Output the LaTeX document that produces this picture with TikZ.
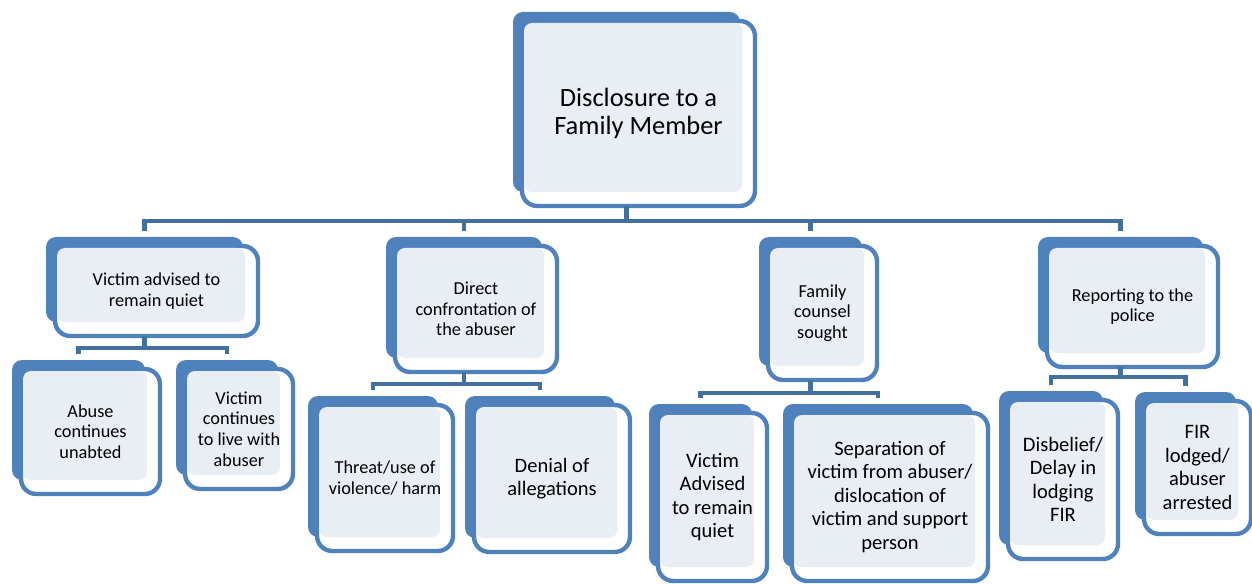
\documentclass[tikz,border=0pt]{standalone}
\usepackage{fontspec}
\setmainfont{Carlito}
\usetikzlibrary{fit}

\definecolor{cardblue}{HTML}{4F81BD}
\definecolor{linkblue}{HTML}{41719C}
\definecolor{cardfill}{HTML}{E9EDF4}

\newcommand{\cardsmall}{\fontsize{13}{14.6}\selectfont}
\newcommand{\cardbig}{\fontsize{14.6}{16.7}\selectfont}
\newcommand{\cardtop}{\fontsize{18.8}{20}\selectfont}

% name, back box corners (x1,y1) (x2,y2), font, text
\newcommand{\famcard}[7]{%
  \node[backcard, fit={(#2,#3) (#4,#5)}] (#1) {};
  \node[frontcard, fit={(#2+9,#3+9) (#4+15,#5+14)}] (#1f) {};
  \node[fillcard, fit={(#2+11,#3+11) (#4+2,#5)}] (#1l) {};
  \node[cardtext, font=#6] (#1t) at (#1f.center) {#7};
}

\begin{document}
\begin{tikzpicture}[x=0.025cm, y=-0.025cm,
  backcard/.style={rectangle, rounded corners=0.25cm, fill=cardblue, inner sep=0pt, outer sep=0pt},
  frontcard/.style={rectangle, rounded corners=0.38cm, draw=cardblue, line width=0.11cm, fill=white, inner sep=0pt, outer sep=0pt},
  fillcard/.style={rectangle, rounded corners=0.2cm, fill=cardfill, inner sep=0pt, outer sep=0pt},
  cardtext/.style={align=center, text=black, inner sep=0pt},
  link/.style={draw=linkblue, line width=0.11cm, shorten >=0.16cm}]

  \useasboundingbox (0,0) rectangle (1252,584);

  \famcard{top}{513}{12}{740}{192}{\cardtop}{Disclosure to a\\Family Member}

  \famcard{vic}{46}{237}{243}{322}{\cardsmall}{Victim advised to\\remain quiet}
  \famcard{conf}{386}{237}{542}{358}{\cardsmall}{Direct\\confrontation of\\the abuser}
  \famcard{coun}{759}{237}{862}{366}{\cardsmall}{Family\\counsel\\sought}
  \famcard{pol}{1038}{237}{1203}{353}{\cardsmall}{Reporting to the\\police}

  \famcard{abuse}{12}{360}{145}{480}{\cardsmall}{Abuse\\continues\\unabted}
  \famcard{live}{176}{360}{278}{475}{\cardsmall}{Victim\\continues\\to live with\\abuser}
  \famcard{threat}{308}{396}{438}{537}{\cardsmall}{Threat/use of\\violence/ harm}
  \famcard{denial}{465}{396}{615}{538}{\cardbig}{Denial of\\allegations}
  \famcard{advq}{649}{404}{752}{567}{\cardbig}{Victim\\Advised\\to remain\\quiet}
  \famcard{sep}{783}{404}{973}{567}{\cardbig}{Separation of\\victim from abuser/\\dislocation of\\victim and support\\person}
  \famcard{disb}{999}{391}{1103}{545}{\cardbig}{Disbelief/\\Delay in\\lodging\\FIR}
  \famcard{fir}{1135}{392}{1236}{520}{\cardbig}{FIR\\lodged/\\abuser\\arrested}

  \draw[link] (top |- topf.south) -- ++(0,15) -| (vic.north);
  \draw[link] (top |- topf.south) -- ++(0,15) -| (conf.north);
  \draw[link] (top |- topf.south) -- ++(0,15) -| (coun.north);
  \draw[link] (top |- topf.south) -- ++(0,15) -| (pol.north);

  \draw[link] (vic |- vicf.south) -- ++(0,12) -| (abuse.north);
  \draw[link] (vic |- vicf.south) -- ++(0,12) -| (live.north);
  \draw[link] (conf |- conff.south) -- ++(0,12) -| (threat.north);
  \draw[link] (conf |- conff.south) -- ++(0,12) -| (denial.north);
  \draw[link] (coun |- counf.south) -- ++(0,13) -| (advq.north);
  \draw[link] (coun |- counf.south) -- ++(0,13) -| (sep.north);
  \draw[link] (pol |- polf.south) -- ++(0,10) -| (disb.north);
  \draw[link] (pol |- polf.south) -- ++(0,10) -| (fir.north);
\end{tikzpicture}
\end{document}
